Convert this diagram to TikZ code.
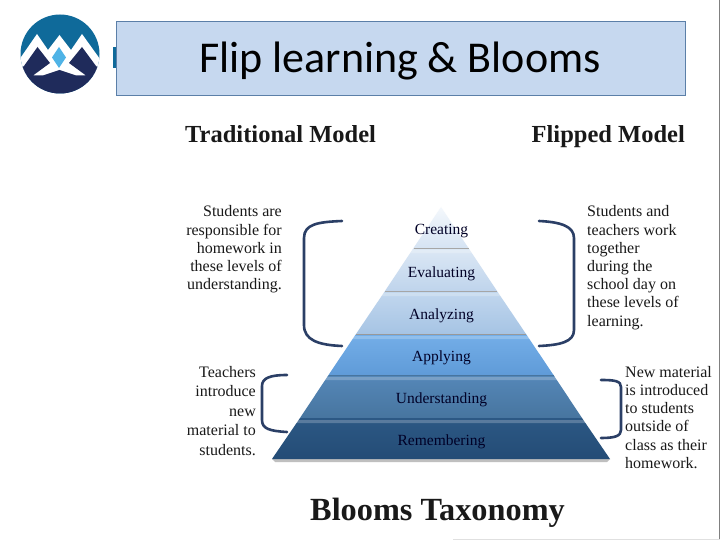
\documentclass[tikz,border=0pt]{standalone}
\usepackage{fontspec}
\setmainfont{Liberation Serif}
\newfontfamily\titlefont{Carlito}
\definecolor{navy}{HTML}{1F2B5B}
\definecolor{logoblue}{HTML}{0F6A9A}
\definecolor{logosky}{HTML}{4FB3E6}
\definecolor{brk}{HTML}{2B3F66}
\definecolor{titlefill}{HTML}{C6D8EF}
\definecolor{titleline}{HTML}{5B7FA8}
\definecolor{ta}{HTML}{F4F8FC}\definecolor{tb}{HTML}{D5E3F3}
\definecolor{tc}{HTML}{DCE8F5}\definecolor{td}{HTML}{BFD4EC}
\definecolor{te}{HTML}{C2D7EE}\definecolor{tf}{HTML}{A6C4E4}
\definecolor{tg}{HTML}{74AEE8}\definecolor{th}{HTML}{5F9BD8}
\definecolor{ti}{HTML}{5587B8}\definecolor{tj}{HTML}{47759F}
\definecolor{tk}{HTML}{2C5884}\definecolor{tl}{HTML}{244C76}
\tikzset{
  bracket/.style={line width=2.6pt,draw=brk,line cap=round},
  lvl/.style={font=\fontsize{15.5}{15.5}\selectfont,text=black!85!blue,inner sep=0pt},
  note/.style={font=\fontsize{16}{18.2}\selectfont,inner sep=0pt,text=black!90},
  head/.style={font=\fontsize{24.5}{24.5}\selectfont\bfseries,inner sep=0pt,text=black!90},
  seam/.style={line width=0.7pt,draw=#1},
}
\newcommand{\band}[6]{% ytop htop ybot hbot top bottom
  \shade[top color=#5,bottom color=#6] (441-#2,#1) -- (441+#2,#1) -- (441+#4,#3) -- (441-#4,#3) -- cycle;
}
\begin{document}
\begin{tikzpicture}[x=1pt,y=-1pt]
\useasboundingbox (0,0) rectangle (720,540);
\fill[white] (0,0) rectangle (720,540);
\draw[gray,line width=0.8pt] (719.5,0) -- (719.5,540);
\draw[black!12,line width=0.8pt] (453,539.5) -- (720,539.5);
% logo
\begin{scope}
\clip (60,54) circle (39.5);
\fill[logoblue] (15,10) rectangle (105,100);
\fill[white] (10,73) -- (37,34) -- (48,50) -- (59.5,35) -- (71,50) -- (82,34) -- (110,73) -- (110,76) -- (10,76) -- cycle;
\fill[navy] (10,100) -- (10,76) -- (24,66) -- (37.5,47) -- (50,63) -- (33,75.5) -- (43,75.5) -- (59.5,70) -- (76,75.5) -- (86,75.5) -- (69,63) -- (82,47) -- (96,66) -- (110,76) -- (110,100) -- cycle;
\end{scope}
\fill[logosky] (59,47) -- (66,57.5) -- (59,68) -- (52,57.5) -- cycle;
% title
\fill[logoblue] (113,47) rectangle (117,68);
\node[draw=titleline,fill=titlefill,line width=0.8pt,minimum width=569pt,minimum height=74pt,inner sep=0pt,anchor=north west] (title) at (116,21) {};
\node[font=\titlefont\fontsize{44}{44}\selectfont,inner sep=0pt] (titletext) at (400,61.5) {Flip learning \& Blooms};
% headings
\node[head,anchor=base west] (trad) at (185,143) {Traditional Model};
\node[head,anchor=base east] (flip) at (685,143) {Flipped Model};
\node[font=\fontsize{32.3}{32.3}\selectfont\bfseries,inner sep=0pt,text=black!90,anchor=base] (tax) at (437.5,520) {Blooms Taxonomy};
% pyramid
\fill[black!25] (272,459) -- (610,459) -- (607,462) -- (275,462) -- cycle;
\shade[top color=ta,bottom color=tb] (441,207) -- (468.5,248) -- (413.5,248) -- cycle;
\band{248}{27.5}{291}{56}{tc}{td}
\band{291}{56}{334}{85}{te}{tf}
\band{334}{85}{375}{112.5}{tg}{th}
\band{375}{112.5}{418}{141}{ti}{tj}
\band{418}{141}{459}{169}{tk}{tl}
\draw[seam=gray!70] (413.5,248) -- (468.5,248);
\draw[seam=gray!70] (385,291) -- (497,291);
\draw[seam=gray!80] (356,334) -- (526,334);
\draw[seam=tj] (328.5,375) -- (553.5,375);
\draw[seam=tk] (300,418) -- (582,418);
\foreach \y/\h/\c in {250/29/white,293/58/white,336/87/white,377/115/white,420/143/white}
  \fill[\c,opacity=0.22] (441-\h,\y) -- (441+\h,\y) -- (441+\h+2,\y+3) -- (441-\h-2,\y+3) -- cycle;
% level labels
\node[lvl,anchor=base] (l1) at (441.5,235) {Creating};
\node[lvl,anchor=base] (l2) at (441.5,277) {Evaluating};
\node[lvl,anchor=base] (l3) at (441.5,319) {Analyzing};
\node[lvl,anchor=base] (l4) at (441.5,361) {Applying};
\node[lvl,anchor=base] (l5) at (441.5,403) {Understanding};
\node[lvl,anchor=base] (l6) at (441.5,445) {Remembering};
% brackets
\draw[bracket] (342,221) .. controls (318,222) and (304,224) .. (304,238) -- (304,325) .. controls (304,340) and (318,345) .. (342,346);
\draw[bracket] (287,375) .. controls (270,375) and (262,378) .. (262,386) -- (262,420) .. controls (262,429) and (270,431) .. (287,432);
\draw[bracket] (539,221) .. controls (560,222) and (574,226) .. (574,238) -- (574,330) .. controls (574,342) and (560,345) .. (539,346);
\draw[bracket] (601,380) .. controls (615,380) and (621,381) .. (621,387) -- (621,430) .. controls (621,436) and (615,438) .. (601,438);
% notes
\node[note,anchor=north east,align=right] (n1) at (282,205.5) {Students are\\responsible for\\homework in\\these levels of\\understanding.};
\node[note,anchor=north east,align=right,font=\fontsize{16}{19.5}\selectfont] (n2) at (256,366) {Teachers\\introduce\\new\\material to\\students.};
\node[note,anchor=north west,align=left] (n3) at (587,205.5) {Students and\\teachers work\\together\\during the\\school day on\\these levels of\\learning.};
\node[note,anchor=north west,align=left] (n4) at (625,366) {New material\\is introduced\\to students\\outside of\\class as their\\homework.};
\end{tikzpicture}
\end{document}
